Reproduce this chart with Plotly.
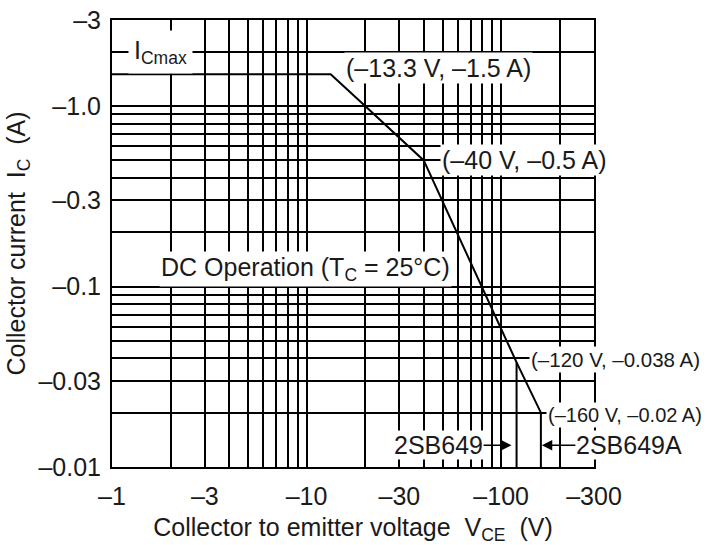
import math
import plotly.graph_objects as go

# --- data (values shown as magnitudes; labels carry the minus sign) ---
soa_v = [1, 13.3, 20, 30, 40, 120, 160, 160]          # V_CE (V)
soa_i = [1.5, 1.5, 1.0, 0.67, 0.5, 0.038, 0.02, 0.01]  # I_C (A)
limit_649_v = [120, 120]
limit_649_i = [0.038, 0.01]

x_grid = [1, 2, 3, 4, 5, 6, 7, 8, 9, 10, 20, 30, 40, 50, 60, 70, 80, 90, 100, 200, 300]
x_ticks = [1, 3, 10, 30, 100, 300]
x_ticktext = ["–1", "–3", "–10", "–30", "–100", "–300"]
y_grid = [0.01, 0.02, 0.03, 0.04, 0.05, 0.06, 0.07, 0.08, 0.09, 0.1,
          0.2, 0.3, 0.4, 0.5, 0.6, 0.7, 0.8, 0.9, 1.0, 2, 3]
y_ticks = [0.01, 0.03, 0.1, 0.3, 1.0, 3]
y_ticktext = ["–0.01", "–0.03", "–0.1", "–0.3", "–1.0", "–3"]

FONT = "Liberation Sans, Arial, sans-serif"
TXT = "#1a1a1a"
FS = 25

fig = go.Figure()
fig.add_trace(go.Scatter(x=soa_v, y=soa_i, mode="lines",
                         line=dict(color="black", width=2), showlegend=False))
fig.add_trace(go.Scatter(x=limit_649_v, y=limit_649_i, mode="lines",
                         line=dict(color="black", width=2), showlegend=False))

L = math.log10


def label(text, x, y, xanchor="left", pad=1, size=FS):
    fig.add_annotation(x=L(x), y=L(y), xref="x", yref="y", text=text,
                       showarrow=False, xanchor=xanchor, yanchor="middle",
                       bgcolor="white", borderpad=pad,
                       font=dict(family=FONT, size=size, color=TXT))


label("I<sub>Cmax</sub>", 1.77, 2.0, xanchor="center", pad=5)
label("(–13.3 V, –1.5 A)", 15.6, 1.62)
label("(–40 V, –0.5 A)", 48.6, 0.5)
label("DC Operation (T<sub>C</sub> = 25°C)", 1.75, 0.1246)
label("(–120 V, –0.038 A)", 139, 0.0395, size=20.5)
label("(–160 V, –0.02 A)", 169, 0.0194, size=20)

for txt, xv, ax, standoff in [("2SB649", 120, -78, 5), ("2SB649A", 160, 88, 1)]:
    fig.add_annotation(x=L(xv), y=L(0.0132), xref="x", yref="y", text=txt,
                       showarrow=True, ax=ax, ay=0, arrowhead=2, arrowsize=1.3,
                       arrowwidth=1.6, arrowcolor="black", standoff=standoff,
                       bgcolor="white", borderpad=0,
                       font=dict(family=FONT, size=FS, color=TXT))

axis_common = dict(type="log", showgrid=True, gridcolor="black", gridwidth=1.5,
                   showline=True, linecolor="black", linewidth=2, mirror=True,
                   ticks="", zeroline=False, automargin=False,
                   tickfont=dict(family=FONT, size=FS, color=TXT))

fig.update_xaxes(range=[L(1), L(300)], tickmode="array", tickvals=x_ticks,
                 ticktext=x_ticktext, ticklabelstandoff=6,
                 minor=dict(tickmode="array", tickvals=x_grid, showgrid=True,
                            gridcolor="black", gridwidth=1.5, ticks=""),
                 title=dict(text="Collector to emitter voltage  V<sub>CE</sub>  (V)",
                            font=dict(family=FONT, size=FS, color=TXT), standoff=10),
                 **axis_common)
fig.update_yaxes(range=[L(0.01), L(3)], tickmode="array", tickvals=y_ticks,
                 ticktext=y_ticktext, ticklabelstandoff=4,
                 minor=dict(tickmode="array", tickvals=y_grid, showgrid=True,
                            gridcolor="black", gridwidth=1.5, ticks=""),
                 title=dict(text="Collector current  I<sub>C</sub>  (A)",
                            font=dict(family=FONT, size=FS, color=TXT), standoff=6),
                 **axis_common)

fig.update_layout(width=707, height=545, plot_bgcolor="white", paper_bgcolor="white",
                  margin=dict(l=112, r=113, t=20, b=78), showlegend=False)

fig.write_html("out.html", config={"displayModeBar": False},
               post_script="document.body.style.margin='0';document.body.style.padding='0';")
